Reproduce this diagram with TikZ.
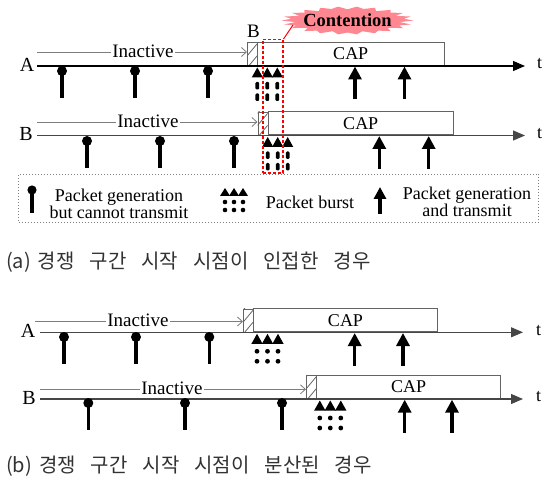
\documentclass[tikz,border=0pt]{standalone}
\usepackage{fontspec}
\setmainfont{Liberation Serif}
\newfontfamily\krfont{Noto Sans CJK KR}
\usetikzlibrary{arrows.meta}
\definecolor{tlgray}{RGB}{70,70,70}
\definecolor{inactgray}{RGB}{125,125,125}
\definecolor{boxgray}{RGB}{100,100,100}
\definecolor{burstpink}{RGB}{255,135,145}
\definecolor{captext}{RGB}{50,50,50}
\begin{document}
\begin{tikzpicture}[x=1pt,y=-1pt,
  tl/.style={draw=tlgray,line width=1.1pt,-{Triangle[length=12pt,width=10pt]}},
  inact/.style={draw=inactgray,line width=0.8pt,-{Straight Barb[length=5pt,width=9pt]}},
  inlabel/.style={fill=white,inner sep=1pt,font=\fontsize{19}{20}\selectfont},
  rowlabel/.style={font=\fontsize{20}{20}\selectfont,inner sep=0pt},
  tlabel/.style={font=\fontsize{18}{18}\selectfont,inner sep=0pt,anchor=west},
  capbox/.style={draw=boxgray,line width=1pt,anchor=south west,minimum height=23pt,inner sep=0pt,font=\fontsize{18}{18}\selectfont},
  hbox/.style={draw=boxgray,line width=0.8pt,anchor=south west,minimum width=10pt,minimum height=23pt,inner sep=0pt},
  legtext/.style={font=\fontsize{18}{17}\selectfont,align=center,inner sep=0pt},
  caption/.style={font=\krfont\fontsize{20}{22}\selectfont,text=captext,anchor=west,inner sep=0pt},
  pinpic/.pic={\draw[line width=3.2pt] (0,0) -- (0,27); \fill (0,0) circle (5);},
  legpin/.pic={\draw[line width=3.2pt] (0,0) -- (0,23); \fill (0,0) circle (4.6);},
  txpic/.pic={\draw[line width=3.2pt,-{Triangle[length=13pt,width=13pt]}] (0,33) -- (0,0);},
  burstdash/.pic={\foreach \d in {-10,0,10}{
      \fill (\d,1.5) -- (\d+5.6,11.5) -- (\d-5.6,11.5) -- cycle;
      \fill[rounded corners=1.2pt] (\d-1.9,16) rectangle (\d+1.9,23.5);
      \fill[rounded corners=1.2pt] (\d-1.9,27.5) rectangle (\d+1.9,35);}},
  burstdot/.pic={\foreach \d in {-10.5,0,10.5}{
      \fill (\d,1.5) -- (\d+5.6,11.5) -- (\d-5.6,11.5) -- cycle;
      \fill (\d,19) circle (2.4);
      \fill (\d,29) circle (2.4);}},
  burstleg/.pic={\foreach \d in {-9,0,9}{
      \fill (\d,0) -- (\d+5,8) -- (\d-5,8) -- cycle;
      \fill (\d,14) circle (2.3);
      \fill (\d,22) circle (2.3);}},
]
\useasboundingbox (0,0) rectangle (544,484);

%================ (a) ================
% ---- row A
\node[hbox] (haA) at (247,66) {};
\node[capbox,minimum width=186.5pt] (caA) at (257,66) {CAP};
\begin{scope}
  \clip (haA.south west) rectangle (haA.north east);
  \foreach \o in {0,12,24} \draw[boxgray,line width=0.8pt] (247,68-\o) -- ++(10,-12);
\end{scope}
\node[font=\fontsize{19}{19}\selectfont,inner sep=0pt] (bmark) at (253.5,31.5) {B};
\coordinate (aAs) at (37,66); \coordinate (aAe) at (525,66);
\draw[tl,draw=black] (aAs) -- (aAe);
\node[rowlabel] (laA) at (27,65) {A};
\node[tlabel] (taA) at (537,64) {t};
\coordinate (iaAs) at (37,52);
\draw[inact] (iaAs) -- (iaAs -| haA.west);
\node[inlabel] (iaAl) at (143,51) {Inactive};
\foreach \x in {62,135,208} \pic at (\x,71) {pinpic};
\pic at (267.3,66) {burstdash};
\foreach \x in {355,404.5} \pic at (\x,66.5) {txpic};

% ---- row B
\node[hbox] (haB) at (257.5,135.5) {};
\node[capbox,minimum width=185.5pt] (caB) at (267.5,135.5) {CAP};
\begin{scope}
  \clip (haB.south west) rectangle (haB.north east);
  \foreach \o in {0,12,24} \draw[boxgray,line width=0.8pt] (257.5,137.5-\o) -- ++(10,-12);
\end{scope}
\coordinate (aBs) at (37,135.5); \coordinate (aBe) at (525,135.5);
\draw[tl] (aBs) -- (aBe);
\node[rowlabel] (laB) at (26,134) {B};
\node[tlabel] (taB) at (537,133.5) {t};
\coordinate (iaBs) at (37,122);
\draw[inact] (iaBs) -- (iaBs -| haB.west);
\node[inlabel] (iaBl) at (148,121) {Inactive};
\foreach \x in {87,160,234} \pic at (\x,141) {pinpic};
\pic at (277.7,135.5) {burstdash};
\foreach \x in {379.3,428.7} \pic at (\x,136) {txpic};

% ---- contention
\node[draw=red,line width=1.5pt,dash pattern=on 3pt off 2pt,anchor=north west,
      minimum width=20pt,minimum height=133.5pt,inner sep=0pt] (contbox) at (262,39) {};
\fill[burstpink,shift={(347.5,20.5)}] (0:66 and 14)
  \foreach \i [evaluate=\i as \f using {mod(\i,4)==1 ? 0.8 : (mod(\i,4)==3 ? 0.86 : 1)},
               evaluate=\i as \a using {\i*360/44}] in {1,...,43} { -- (\a:{66*\f} and {14*\f}) } -- cycle;
\node[inner sep=0pt,font=\bfseries\fontsize{18.5}{18.5}\selectfont] (contlbl) at (347.5,20) {Contention};
\coordinate (contend) at (293,25);
\draw[red,line width=1pt] (contbox.north east) -- (contend);

% ---- legend
\node[draw=gray,dotted,line width=1pt,anchor=north west,minimum width=520pt,
      minimum height=48pt,inner sep=0pt] (legend) at (18,174) {};
\pic at (32,190) {legpin};
\node[legtext] (lg1) at (119,203.5) {Packet generation\\but cannot transmit};
\pic at (234,188) {burstleg};
\node[legtext] (lg2) at (310,202) {Packet burst};
\draw[line width=3.2pt,-{Triangle[length=12pt,width=12pt]}] (380,214) -- (380,187);
\node[legtext] (lg3) at (467,202) {Packet generation\\and transmit};

\node[caption] (capa) at (6,262) {(a)\hspace{7pt}경쟁\hspace{15pt}구간\hspace{15pt}시작\hspace{15pt}시점이\hspace{15pt}인접한\hspace{15pt}경우};

%================ (b) ================
% ---- row A
\node[hbox] (hbA) at (243,332.3) {};
\node[capbox,minimum width=184pt] (cbA) at (253,332.3) {CAP};
\begin{scope}
  \clip (hbA.south west) rectangle (hbA.north east);
  \foreach \o in {0,12,24} \draw[boxgray,line width=0.8pt] (243,334.3-\o) -- ++(10,-12);
\end{scope}
\coordinate (bAs) at (40,332.3); \coordinate (bAe) at (523,332.3);
\draw[tl] (bAs) -- (bAe);
\node[rowlabel] (lbA) at (28,331) {A};
\node[tlabel] (tbA) at (536,330.5) {t};
\coordinate (ibAs) at (35,321.5);
\draw[inact] (ibAs) -- (ibAs -| hbA.west);
\node[inlabel] (ibAl) at (138,320.5) {Inactive};
\foreach \x in {64,136,209.3} \pic at (\x,337) {pinpic};
\pic at (267.5,332.3) {burstdot};
\foreach \x in {354.7,403} \pic at (\x,333) {txpic};

% ---- row B
\node[hbox] (hbB) at (306,399) {};
\node[capbox,minimum width=184.3pt] (cbB) at (316,399) {CAP};
\begin{scope}
  \clip (hbB.south west) rectangle (hbB.north east);
  \foreach \o in {0,12,24} \draw[boxgray,line width=0.8pt] (306,401-\o) -- ++(10,-12);
\end{scope}
\coordinate (bBs) at (40,399); \coordinate (bBe) at (523,399);
\draw[tl] (bBs) -- (bBe);
\node[rowlabel] (lbB) at (29,398) {B};
\node[tlabel] (tbB) at (536,397) {t};
\coordinate (ibBs) at (40,389.3);
\draw[inact] (ibBs) -- (ibBs -| hbB.west);
\node[inlabel] (ibBl) at (172,388.3) {Inactive};
\foreach \x in {88.3,185,282} \pic at (\x,403) {pinpic};
\pic at (330.3,399) {burstdot};
\foreach \x in {404.7,452} \pic at (\x,399.7) {txpic};

\node[caption] (capb) at (6,466) {(b)\hspace{7pt}경쟁\hspace{15pt}구간\hspace{15pt}시작\hspace{15pt}시점이\hspace{15pt}분산된\hspace{15pt}경우};
\end{tikzpicture}
\end{document}
